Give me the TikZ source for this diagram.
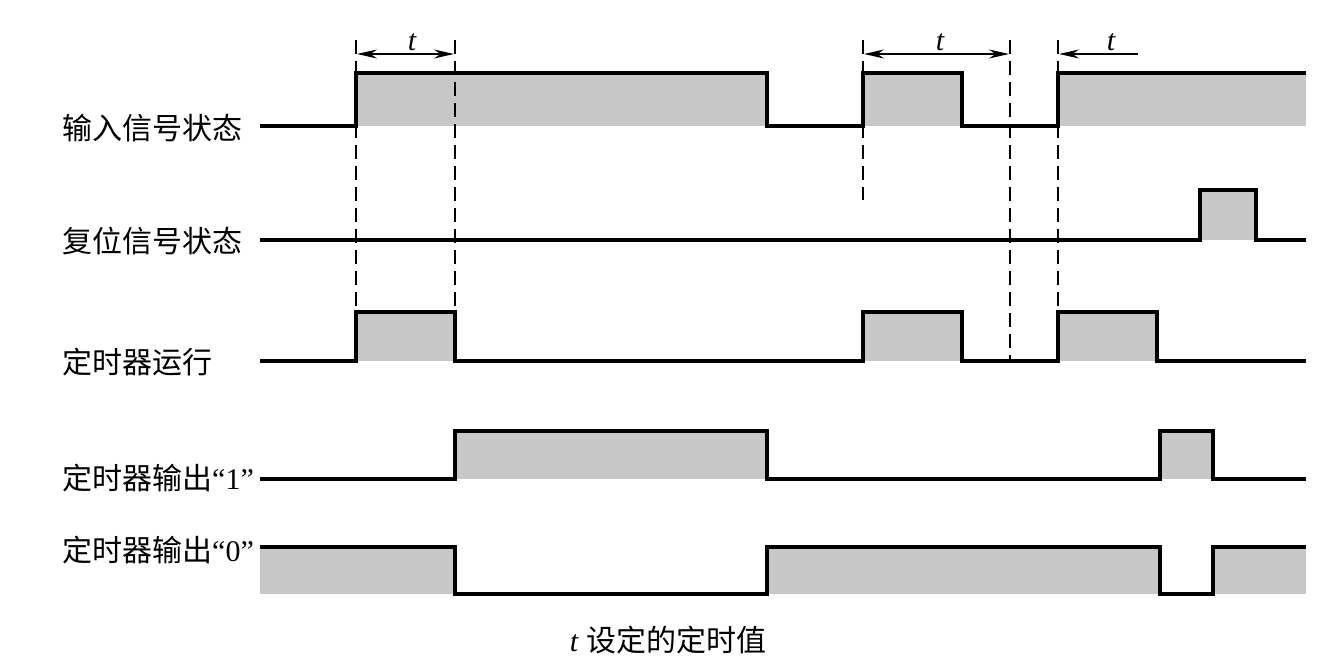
\documentclass[tikz,border=0pt]{standalone}
\usepackage{fontspec}
\setmainfont{Liberation Serif}
\newfontfamily\cjk{Noto Sans CJK SC}
\usetikzlibrary{arrows.meta}
\tikzset{
  sig/.style={line width=3.2pt, line join=miter},
  hi/.style={fill=black!22, draw=none},
  guide/.style={line width=1.6pt, dash pattern=on 14pt off 7pt},
  dim/.style={line width=1.5pt, {Stealth[length=20pt,width=9pt]}-{Stealth[length=20pt,width=9pt]}},
  dimr/.style={line width=1.5pt, {Stealth[length=20pt,width=9pt]}-},
  lab/.style={anchor=west, inner sep=0pt, font=\fontsize{30}{32}\selectfont\cjk},
  tl/.style={inner sep=0pt, font=\fontsize{30}{32}\selectfont\itshape}
}
\begin{document}
\begin{tikzpicture}[x=1pt,y=-1pt]
\useasboundingbox (0,0) rectangle (1344,671);
% fills
\fill[hi] (356,73) rectangle (767,126);
\fill[hi] (863,73) rectangle (962,126);
\fill[hi] (1058,73) rectangle (1306,126);
\fill[hi] (1200,190) rectangle (1256,240);
\fill[hi] (356,312) rectangle (455,361);
\fill[hi] (863,312) rectangle (962,361);
\fill[hi] (1058,312) rectangle (1157,361);
\fill[hi] (455,431) rectangle (767,479);
\fill[hi] (1160,431) rectangle (1213,479);
\fill[hi] (260,547) rectangle (455,594);
\fill[hi] (767,547) rectangle (1160,594);
\fill[hi] (1213,547) rectangle (1306,594);
% waveforms
\draw[sig] (260,126) -| (356,73) -| (767,126) -| (863,73) -| (962,126) -| (1058,73) -- (1306,73);
\draw[sig] (260,240) -| (1200,190) -| (1256,240) -- (1306,240);
\draw[sig] (260,361) -| (356,312) -| (455,361) -| (863,312) -| (962,361) -| (1058,312) -| (1157,361) -- (1306,361);
\draw[sig] (260,479) -| (455,431) -| (767,479) -| (1160,431) -| (1213,479) -- (1306,479);
\draw[sig] (260,547) -| (455,594) -| (767,547) -| (1160,594) -| (1213,547) -- (1306,547);
% guide lines
\coordinate (g1t) at (356,40); \coordinate (g1b) at (356,312);
\coordinate (g2t) at (455,40); \coordinate (g2b) at (455,312);
\coordinate (g3t) at (863,40); \coordinate (g3b) at (863,200);
\coordinate (g4t) at (1010,40); \coordinate (g4b) at (1010,361);
\coordinate (g5t) at (1058,40); \coordinate (g5b) at (1058,312);
\draw[guide] (g1t) -- (g1b);
\draw[guide] (g2t) -- (g2b);
\draw[guide] (g3t) -- (g3b);
\draw[guide] (g4t) -- (g4b);
\draw[guide] (g5t) -- (g5b);
% dimension arrows
\coordinate (a1) at (357,54); \coordinate (a2) at (454,54);
\coordinate (b1) at (864,54); \coordinate (b2) at (1009,54);
\coordinate (c1) at (1059,54); \coordinate (c2) at (1138,54);
\draw[dim] (a1) -- (a2);
\draw[dim] (b1) -- (b2);
\draw[dimr] (c1) -- (c2);
\node[tl] (t1) at (412,42) {t};
\node[tl] (t2) at (940,42) {t};
\node[tl] (t3) at (1111,42) {t};
% labels
\node[lab] (l1) at (62,128) {输入信号状态};
\node[lab] (l2) at (62,241) {复位信号状态};
\node[lab] (l3) at (62,362) {定时器运行};
\node[lab] (l4) at (62,478) {定时器输出{\rmfamily “1”}};
\node[lab] (l5) at (62,550) {定时器输出{\rmfamily “0”}};
\node[inner sep=0pt, font=\fontsize{30}{32}\selectfont] (cap) at (668,640) {\textit{t} {\cjk 设定的定时值}};
\end{tikzpicture}
\end{document}
